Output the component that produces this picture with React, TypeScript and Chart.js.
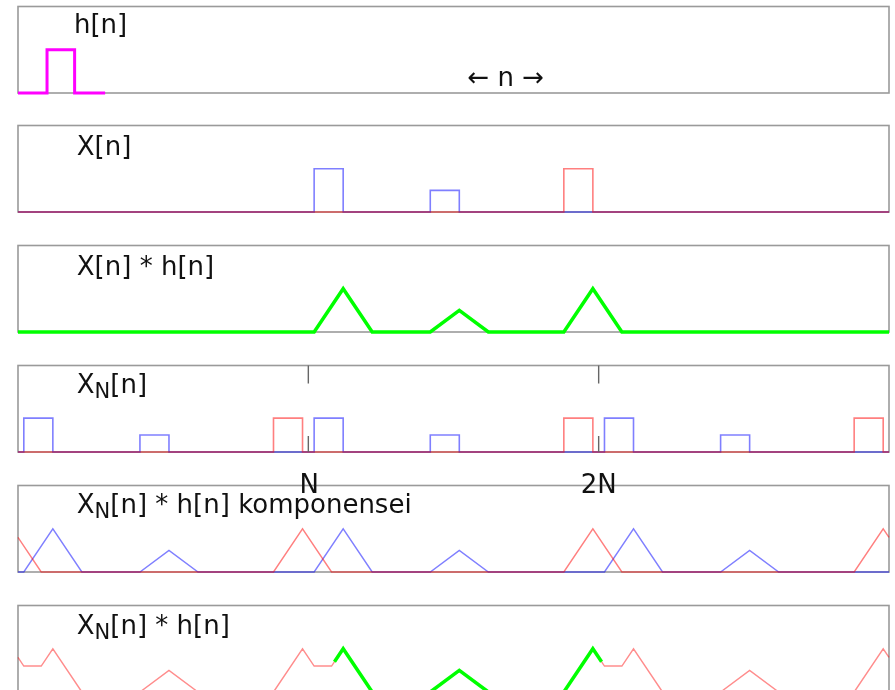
import React, { useEffect, useRef } from 'react';
import { Chart, registerables } from 'chart.js';

Chart.register(...registerables);

// ---- data (n axis in units, N = 10) ----
const N_MIN = 0;
const N_MAX = 30;
const TICK_VALUES = [10, 20];
const TICK_LABELS = ['N', '2N'];

const hX = [0, 1, 1.95, 3.0];
const hY = [0, 1, 0, 0];

const xBlueX = [0, 10.2, 11.2, 14.2, 15.2, 30];
const xBlueY = [0, 1, 0, 0.5, 0, 0];
const xRedX = [0, 18.8, 19.8, 30];
const xRedY = [0, 1, 0, 0];

const convX = [0, 10.2, 11.2, 12.2, 14.2, 15.2, 16.2, 18.8, 19.8, 20.8, 30];
const convY = [0, 0, 1, 0, 0, 0.5, 0, 0, 1, 0, 0];

const xnBlueX = [0, 0.2, 1.2, 4.2, 5.2, 10.2, 11.2, 14.2, 15.2, 20.2, 21.2, 24.2, 25.2, 30];
const xnBlueY = [0, 1, 0, 0.5, 0, 1, 0, 0.5, 0, 1, 0, 0.5, 0, 0];
const xnRedX = [0, 8.8, 9.8, 18.8, 19.8, 28.8, 29.8, 30];
const xnRedY = [0, 1, 0, 1, 0, 1, 0, 0];

const compBlueX = [0, 0.2, 1.2, 2.2, 4.2, 5.2, 6.2, 10.2, 11.2, 12.2, 14.2, 15.2, 16.2, 20.2, 21.2, 22.2, 24.2, 25.2, 26.2, 30];
const compBlueY = [0, 0, 1, 0, 0, 0.5, 0, 0, 1, 0, 0, 0.5, 0, 0, 1, 0, 0, 0.5, 0, 0];
const compRedX = [0, 0.8, 8.8, 9.8, 10.8, 18.8, 19.8, 20.8, 28.8, 29.8, 30];
const compRedY = [0.8, 0, 0, 1, 0, 0, 1, 0, 0, 1, 0.8];

const circX = [0, 0.2, 0.8, 1.2, 2.2, 4.2, 5.2, 6.2, 8.8, 9.8, 10.2, 10.8, 11.2, 12.2, 14.2, 15.2, 16.2, 18.8, 19.8, 20.2, 20.8, 21.2, 22.2, 24.2, 25.2, 26.2, 28.8, 29.8, 30];
const circY = [0.8, 0.6, 0.6, 1, 0, 0, 0.5, 0, 0, 1, 0.6, 0.6, 1, 0, 0, 0.5, 0, 0, 1, 0.6, 0.6, 1, 0, 0, 0.5, 0, 0, 1, 0.8];
const circPeriodX = [10.9, 11.2, 12.2, 14.2, 15.2, 16.2, 18.8, 19.8, 20.1];
const circPeriodY = [0.7, 1, 0, 0, 0.5, 0, 0, 1, 0.7];

// ---- layout / style ----
const W = 895;
const H = 690;
const PLOT_LEFT = 18;
const PLOT_RIGHT = 889;
const PANEL_H = 86;
const PANEL_TOPS = [6.5, 125.5, 245.5, 365.5, 485.5, 605.5];
const FONT = '"DejaVu Sans", Verdana, sans-serif';
const FS = 26;

const BLUE = 'rgba(0,0,255,0.5)';
const RED = 'rgba(255,0,0,0.5)';
const GREEN = '#00ff00';
const MAGENTA = '#ff00ff';

const pts = (xs: number[], ys: number[]) => xs.map((x, i) => ({ x, y: ys[i] }));

const line = (xs: number[], ys: number[], color: string, width: number, stepped = false) => ({
  data: pts(xs, ys),
  borderColor: color,
  backgroundColor: color,
  borderWidth: width,
  pointRadius: 0,
  tension: 0,
  stepped,
  fill: false,
  clip: false as const,
});

type PanelCfg = { datasets: any[]; yMax: number; ticks?: boolean };

const PANELS: PanelCfg[] = [
  { datasets: [line(hX, hY, MAGENTA, 3, true)], yMax: 2 },
  { datasets: [line(xRedX, xRedY, RED, 1.6, true), line(xBlueX, xBlueY, BLUE, 1.6, true)], yMax: 2 },
  { datasets: [line(convX, convY, GREEN, 3.5)], yMax: 2 },
  { datasets: [line(xnRedX, xnRedY, RED, 1.6, true), line(xnBlueX, xnBlueY, BLUE, 1.6, true)], yMax: 2.55, ticks: true },
  { datasets: [line(compRedX, compRedY, RED, 1.4), line(compBlueX, compBlueY, BLUE, 1.4)], yMax: 2 },
  { datasets: [line(circPeriodX, circPeriodY, GREEN, 3.5), line(circX, circY, 'rgba(255,0,0,0.45)', 1.4)], yMax: 2 },
];

const PAD = 12;

const framePlugin = {
  id: 'frame',
  beforeDatasetsDraw(chart: any) {
    const { ctx, chartArea: a } = chart;
    ctx.save();
    ctx.strokeStyle = '#9a9a9a';
    ctx.lineWidth = 1.6;
    ctx.strokeRect(a.left, a.top, a.right - a.left, a.bottom - a.top);
    ctx.restore();
  },
};

const tickPlugin = {
  id: 'innerTicks',
  afterDatasetsDraw(chart: any) {
    const { ctx, chartArea: a, scales } = chart;
    ctx.save();
    ctx.strokeStyle = '#666';
    ctx.lineWidth = 1.4;
    TICK_VALUES.forEach((v) => {
      const px = scales.x.getPixelForValue(v);
      ctx.beginPath();
      ctx.moveTo(px, a.top);
      ctx.lineTo(px, a.top + 18);
      ctx.moveTo(px, a.bottom - 16);
      ctx.lineTo(px, a.bottom);
      ctx.stroke();
    });
    ctx.restore();
  },
};

const nToPx = (v: number) => PLOT_LEFT + ((v - N_MIN) / (N_MAX - N_MIN)) * (PLOT_RIGHT - PLOT_LEFT);

function Label({ x, baseline, children, fs = FS, center = false }: any) {
  return (
    <div
      style={{
        position: 'absolute',
        left: x,
        top: baseline - 0.846 * fs,
        fontFamily: FONT,
        fontSize: fs,
        lineHeight: `${fs}px`,
        color: '#111',
        whiteSpace: 'nowrap',
        transform: center ? 'translateX(-50%)' : undefined,
      }}
    >
      {children}
    </div>
  );
}

const Sub = ({ children }: any) => (
  <span style={{ fontSize: 21, verticalAlign: '-4.5px', lineHeight: '21px' }}>{children}</span>
);

export default function App() {
  const refs = useRef<(HTMLCanvasElement | null)[]>([]);

  useEffect(() => {
    const charts: Chart[] = [];
    PANELS.forEach((p, i) => {
      const canvas = refs.current[i];
      if (!canvas) return;
      const top = PANEL_TOPS[i];
      const canvasTop = Math.floor(top) - PAD;
      const padTop = top - canvasTop;
      const chart = new Chart(canvas, {
        type: 'line',
        data: { datasets: p.datasets },
        options: {
          responsive: false,
          animation: false,
          devicePixelRatio: 1,
          events: [],
          layout: {
            padding: { left: PLOT_LEFT, right: W - PLOT_RIGHT, top: padTop, bottom: PAD },
          },
          scales: {
            x: { type: 'linear', min: N_MIN, max: N_MAX, display: false },
            y: { type: 'linear', min: 0, max: p.yMax, display: false },
          },
          plugins: { legend: { display: false }, tooltip: { enabled: false }, title: { display: false } },
        },
        plugins: p.ticks ? [framePlugin, tickPlugin] : [framePlugin],
      } as any);
      charts.push(chart);
    });
    return () => charts.forEach((c) => c.destroy());
  }, []);

  return (
    <div style={{ position: 'absolute', left: 0, top: 0, width: W, height: H, overflow: 'hidden', background: '#fff' }}>
      {PANELS.map((p, i) => {
        const top = PANEL_TOPS[i];
        const canvasTop = Math.floor(top) - PAD;
        const h = Math.round(top + PANEL_H - canvasTop) + PAD;
        return (
          <canvas
            key={i}
            ref={(el) => (refs.current[i] = el)}
            width={W}
            height={h}
            style={{ position: 'absolute', left: 0, top: canvasTop, width: W, height: h }}
          />
        );
      })}
      <Label x={74} baseline={33.3}>h[n]</Label>
      <Label x={467.5} baseline={85.7}>← n →</Label>
      <Label x={76.8} baseline={154.7}>X[n]</Label>
      <Label x={76.8} baseline={274.5}>X[n] * h[n]</Label>
      <Label x={76.8} baseline={393.3}>X<Sub>N</Sub>[n]</Label>
      {TICK_VALUES.map((v, i) => (
        <Label key={v} x={nToPx(v) + (i === 0 ? 1 : 0)} baseline={493} center>
          {TICK_LABELS[i]}
        </Label>
      ))}
      <Label x={76.8} baseline={513.3}>X<Sub>N</Sub>[n] * h[n] komponensei</Label>
      <Label x={76.8} baseline={634.3}>X<Sub>N</Sub>[n] * h[n]</Label>
    </div>
  );
}
